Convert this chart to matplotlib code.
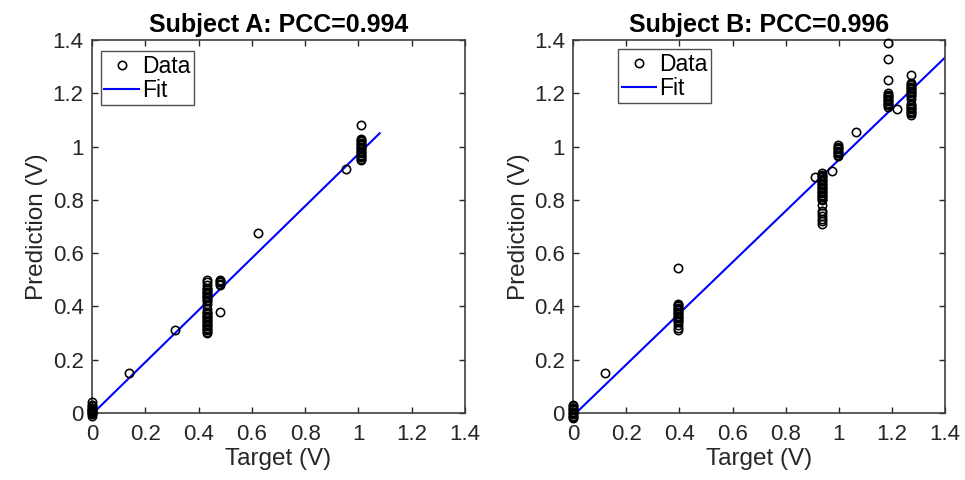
import matplotlib
matplotlib.use('Agg')
import matplotlib.pyplot as plt

# Subject A: target voltage of each group, predicted values in that group
a_target = [0.0, 0.14, 0.31, 0.432, 0.481, 0.625, 0.955, 1.01]
a_pred = [
    [-0.01, -0.005, 0.0, 0.003, 0.006, 0.01, 0.013, 0.016, 0.02, 0.025, 0.03, 0.042],
    [0.15],
    [0.31],
    [0.30, 0.305, 0.31, 0.315, 0.32, 0.325, 0.33, 0.335, 0.34, 0.345, 0.35,
     0.355, 0.36, 0.365, 0.37, 0.375, 0.38, 0.39,
     0.41, 0.42, 0.425, 0.43, 0.435, 0.44, 0.445, 0.45, 0.455, 0.46,
     0.465, 0.47, 0.48, 0.49, 0.50],
    [0.38, 0.48, 0.485, 0.49, 0.495, 0.50],
    [0.675],
    [0.915],
    [0.95, 0.955, 0.96, 0.965, 0.97, 0.975, 0.98, 0.985, 0.99, 0.995, 1.00,
     1.005, 1.01, 1.015, 1.02, 1.025, 1.03, 1.08],
]
a_fit_x = [0.0, 1.08]
a_fit_y = [-0.005, 1.05]

# Subject B
b_target = [0.0, 0.12, 0.395, 0.91, 0.935, 0.975, 0.995, 1.065, 1.185, 1.22, 1.27]
b_pred = [
    [-0.02, -0.015, -0.01, -0.005, 0.0, 0.005, 0.01, 0.015, 0.02, 0.025, 0.03],
    [0.15],
    [0.31, 0.32, 0.33, 0.34, 0.345, 0.35, 0.355, 0.36, 0.365, 0.37, 0.375,
     0.38, 0.385, 0.39, 0.395, 0.40, 0.405, 0.41, 0.545],
    [0.885],
    [0.71, 0.72, 0.73, 0.74, 0.75, 0.76, 0.78, 0.80, 0.805, 0.81, 0.815,
     0.82, 0.825, 0.83, 0.835, 0.84, 0.845, 0.85, 0.855, 0.86, 0.865,
     0.87, 0.875, 0.88, 0.885, 0.89, 0.895, 0.90],
    [0.91],
    [0.965, 0.97, 0.975, 0.98, 0.985, 0.99, 0.995, 1.00, 1.005],
    [1.055],
    [1.15, 1.155, 1.16, 1.165, 1.17, 1.175, 1.18, 1.185, 1.19, 1.195, 1.20,
     1.25, 1.33, 1.39],
    [1.14],
    [1.12, 1.125, 1.13, 1.135, 1.14, 1.145, 1.15, 1.155, 1.16, 1.18, 1.19,
     1.195, 1.20, 1.205, 1.21, 1.215, 1.22, 1.225, 1.23, 1.235, 1.24, 1.27],
]
b_fit_x = [0.0, 1.4]
b_fit_y = [-0.01, 1.335]

titles = ['Subject A: PCC=0.994', 'Subject B: PCC=0.996']
ticks = [0, 0.2, 0.4, 0.6, 0.8, 1.0, 1.2, 1.4]
tick_labels = ['0', '0.2', '0.4', '0.6', '0.8', '1', '1.2', '1.4']

plt.rcParams['font.family'] = ['Liberation Sans', 'DejaVu Sans']

fig = plt.figure(figsize=(9.65, 4.8), dpi=100)
ax_a = fig.add_axes([0.0953, 0.1396, 0.3865, 0.777])
ax_b = fig.add_axes([0.594, 0.1396, 0.3855, 0.777])

subjects = [
    (ax_a, a_target, a_pred, a_fit_x, a_fit_y, (0.024, 0.97)),
    (ax_b, b_target, b_pred, b_fit_x, b_fit_y, (0.121, 0.975)),
]

for i, (ax, tx, py, fx, fy, leg_pos) in enumerate(subjects):
    xs, ys = [], []
    for t, vals in zip(tx, py):
        xs += [t] * len(vals)
        ys += vals
    ax.plot(xs, ys, 'o', mfc='none', mec='black', ms=6, mew=1.15,
            label='Data', clip_on=False, zorder=3)
    ax.plot(fx, fy, '-', color='#0000ff', lw=1.5, label='Fit', zorder=2)

    ax.set_xlim(0, 1.4)
    ax.set_ylim(0, 1.4)
    ax.set_xticks(ticks)
    ax.set_xticklabels(tick_labels)
    ax.set_yticks(ticks)
    ax.set_yticklabels(tick_labels)
    ax.tick_params(direction='in', top=True, right=True, length=4,
                   width=1, colors='#262626', labelsize=16)
    ax.tick_params(axis='x', pad=8)
    ax.tick_params(axis='y', pad=6)
    for s in ax.spines.values():
        s.set_color('#404040')
        s.set_linewidth(1.2)
    ax.set_xlabel('Target (V)', fontsize=17.5, color='#262626', labelpad=2)
    ax.set_ylabel('Prediction (V)', fontsize=17.5, color='#262626', labelpad=3)
    ax.set_title(titles[i], fontsize=18, fontweight='bold', pad=6)

    leg = ax.legend(loc='upper left', bbox_to_anchor=leg_pos, fontsize=16.5,
                    frameon=True, fancybox=False, handlelength=1.5,
                    handletextpad=0.15, borderpad=0.15, labelspacing=0.05,
                    borderaxespad=0)
    leg.get_frame().set_edgecolor('#262626')
    leg.get_frame().set_linewidth(1.0)

fig.savefig('out.png', dpi=100)
